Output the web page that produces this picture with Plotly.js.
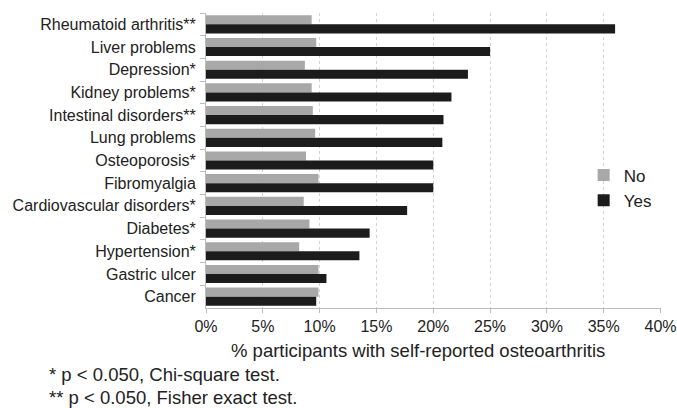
<!DOCTYPE html>
<html>
<head>
<meta charset="utf-8">
<script src="https://cdn.plot.ly/plotly-3.0.1.min.js"></script>
<style>html,body{margin:0;padding:0;background:#fff;}#chart{width:677px;height:408px;}</style>
</head>
<body>
<div id="chart"></div>
<script>
const categories = [
  "Rheumatoid arthritis**", "Liver problems", "Depression*", "Kidney problems*",
  "Intestinal disorders**", "Lung problems", "Osteoporosis*", "Fibromyalgia",
  "Cardiovascular disorders*", "Diabetes*", "Hypertension*", "Gastric ulcer", "Cancer"
];
const noValues  = [9.3, 9.7, 8.7, 9.3, 9.4, 9.6, 8.8, 9.9, 8.6, 9.1, 8.2, 9.9, 9.9];
const yesValues = [36.0, 25.0, 23.05, 21.6, 20.9, 20.8, 20.0, 20.0, 17.7, 14.4, 13.5, 10.6, 9.7];
const xTickVals = [0, 5, 10, 15, 20, 25, 30, 35, 40];
const xTickText = ["0%", "5%", "10%", "15%", "20%", "25%", "30%", "35%", "40%"];
const seriesNames = ["No", "Yes"];
const xTitle = "% participants with self-reported osteoarthritis";
const footnotes = ["* p < 0.050, Chi-square test.", "** p < 0.050, Fisher exact test."];

const font = "Liberation Sans, Arial, sans-serif";
const traces = [
  {type: "bar", orientation: "h", name: seriesNames[0], y: categories, x: noValues,
   marker: {color: "#a8a8a8"}},
  {type: "bar", orientation: "h", name: seriesNames[1], y: categories, x: yesValues,
   marker: {color: "#1c1c1c"}}
];
const annotations = footnotes.map((t, i) => ({
  text: t, xref: "paper", yref: "paper", x: -0.35, y: -0.227 - i * 0.078,
  xanchor: "left", yanchor: "middle", showarrow: false, font: {size: 18.5, color: "#222"}
}));
annotations.push({
  text: xTitle, xref: "paper", yref: "paper", x: 0.466, y: -0.143,
  xanchor: "center", yanchor: "middle", showarrow: false, font: {size: 18.5, color: "#222"}
});
const layout = {
  width: 677, height: 408,
  margin: {l: 206, r: 16, t: 13, b: 100, autoexpand: false},
  paper_bgcolor: "#fff", plot_bgcolor: "#fff",
  font: {family: font, size: 16, color: "#222"},
  barmode: "group", bargap: 0.2, bargroupgap: 0,
  showlegend: true,
  legend: {x: 0.83, y: 0.51, xanchor: "left", yanchor: "top", font: {size: 17},
           bgcolor: "rgba(0,0,0,0)", itemwidth: 30, tracegroupgap: 0},
  xaxis: {range: [0, 40.04], tickvals: xTickVals, ticktext: xTickText, automargin: false,
          ticklabeloverflow: "allow",
          showgrid: true, gridcolor: "#d2d2d2", griddash: "dot", gridwidth: 1,
          showline: true, linecolor: "#bdbdbd", ticks: "outside", ticklen: 4, tickcolor: "#bdbdbd",
          zeroline: false, tickfont: {size: 16}},
  yaxis: {type: "category", categoryorder: "array", categoryarray: categories, autorange: "reversed",
          automargin: false,
          showline: true, linecolor: "#bdbdbd", ticks: "outside", ticklen: 5, tickcolor: "#bdbdbd",
          tickson: "boundaries", showgrid: false, tickfont: {size: 16}, ticklabelstandoff: 6},
  annotations: annotations
};
Plotly.newPlot("chart", traces, layout, {displayModeBar: false, staticPlot: true});
</script>
</body>
</html>
